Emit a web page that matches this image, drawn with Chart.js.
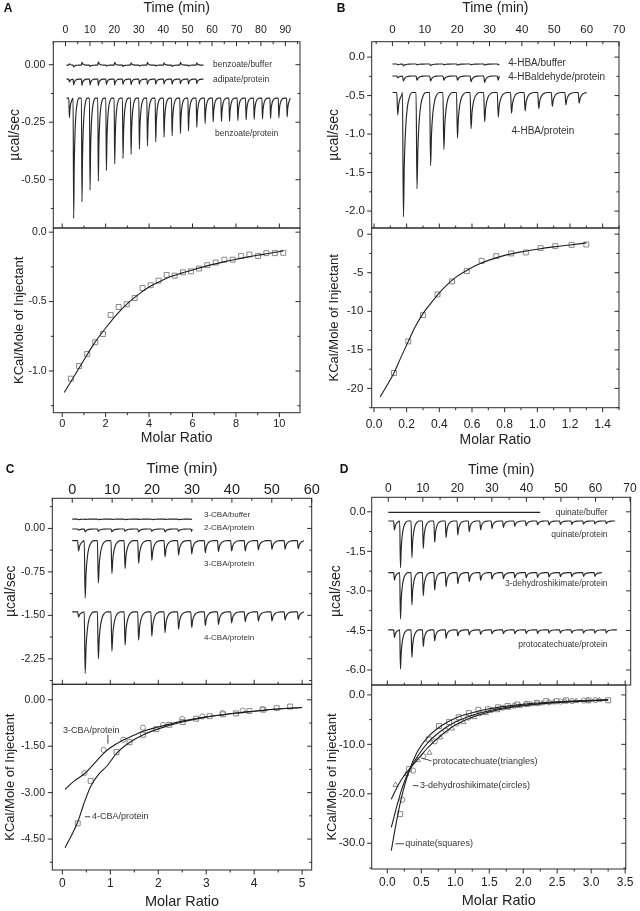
<!DOCTYPE html>
<html><head><meta charset="utf-8">
<script src="https://cdn.jsdelivr.net/npm/chart.js@4/dist/chart.umd.min.js"></script>
<style>
html,body{margin:0;padding:0;background:#fff;}
body{width:640px;height:911px;position:relative;overflow:hidden;}
canvas{position:absolute;left:0;top:0;}
</style></head><body>
<canvas id="aTop" width="640" height="911"></canvas>
<canvas id="aBot" width="640" height="911"></canvas>
<canvas id="bTop" width="640" height="911"></canvas>
<canvas id="bBot" width="640" height="911"></canvas>
<canvas id="cTop" width="640" height="911"></canvas>
<canvas id="cBot" width="640" height="911"></canvas>
<canvas id="dTop" width="640" height="911"></canvas>
<canvas id="dBot" width="640" height="911"></canvas>
<script>
// ---------------- DATA ----------------
// Panel A – raw ITC (time in min, µcal/sec); first entry = small pre-injection
const A_TIMES = [1.35,3.1,6.5,9.8,13.2,16.5,19.9,23.3,26.6,30.0,33.3,36.7,40.1,43.4,46.8,50.1,53.5,56.9,60.2,63.6,66.9,70.3,73.7,77.0,80.4,83.7,87.1,90.5];
const A_BENZ_PROT = [-0.23,-0.668,-0.596,-0.545,-0.506,-0.460,-0.431,-0.408,-0.390,-0.367,-0.353,-0.335,-0.315,-0.309,-0.299,-0.289,-0.272,-0.256,-0.249,-0.247,-0.246,-0.243,-0.240,-0.238,-0.236,-0.234,-0.231,-0.227];
const A_ADIP_PROT = [-0.075,-0.088,-0.090,-0.088,-0.090,-0.087,-0.088,-0.086,-0.087,-0.085,-0.086,-0.085,-0.084,-0.085,-0.083,-0.084,-0.082];
const A_BENZ_BUF = [0.004,-0.010,0.010,-0.008,0.012,-0.006,0.010,-0.008,0.008,-0.006,0.010,-0.006,0.008,-0.008,0.010,-0.006,0.008];
// Panel A – integrated heats (molar ratio, kcal/mol)
const A_RATIO = [0.40,0.78,1.15,1.52,1.88,2.23,2.60,2.97,3.34,3.70,4.07,4.44,4.81,5.18,5.56,5.93,6.30,6.68,7.07,7.47,7.85,8.24,8.62,9.02,9.40,9.79,10.18];
const A_HEAT = [-1.055,-0.964,-0.877,-0.793,-0.733,-0.596,-0.539,-0.519,-0.474,-0.402,-0.382,-0.349,-0.308,-0.313,-0.289,-0.282,-0.262,-0.238,-0.219,-0.198,-0.198,-0.171,-0.161,-0.171,-0.151,-0.151,-0.149];
const A_FIT_X = [0.09,0.5,1,1.5,2,2.5,3,3.5,4,4.5,5,5.5,6,6.5,7,7.5,8,8.5,9,9.5,10.18];
const A_FIT_Y = [-1.155,-1.05,-0.92,-0.795,-0.69,-0.595,-0.515,-0.45,-0.395,-0.355,-0.32,-0.295,-0.272,-0.25,-0.23,-0.212,-0.195,-0.18,-0.166,-0.154,-0.135];

// Panel B
const B_TIMES = [1.35,3.1,7.3,11.5,15.6,19.8,24.0,28.2,32.4,36.5,40.7,44.9,49.1,53.3,57.4];
const B_HBA_PROT = [-0.75,-2.075,-1.71,-1.41,-1.20,-1.05,-0.93,-0.84,-0.78,-0.73,-0.70,-0.67,-0.64,-0.62,-0.60];
const B_HBA_BUF = [-0.10,-0.115,-0.10,-0.11,-0.10,-0.105,-0.10,-0.105,-0.10];
const B_ALD_PROT = [-0.27,-0.31,-0.30,-0.31,-0.30,-0.30,-0.32,-0.33,-0.30];
const B_RATIO = [0.122,0.21,0.30,0.389,0.478,0.568,0.659,0.749,0.84,0.93,1.02,1.11,1.21,1.30];
const B_HEAT = [-18.0,-13.9,-10.5,-7.81,-6.13,-4.79,-3.45,-2.85,-2.50,-2.37,-1.81,-1.55,-1.38,-1.34];
const B_FIT_X = [0.038,0.08,0.122,0.16,0.21,0.25,0.30,0.35,0.40,0.45,0.50,0.56,0.62,0.70,0.80,0.90,1.00,1.10,1.20,1.30];
const B_FIT_Y = [-21.1,-19.6,-18.0,-16.2,-13.9,-12.1,-10.3,-8.9,-7.6,-6.5,-5.6,-4.8,-4.1,-3.4,-2.75,-2.3,-1.95,-1.65,-1.4,-1.13];

// Panel C
const C_TIMES = [1.35,3.0,6.3,9.7,13.0,16.4,19.7,23.0,26.4,29.7,33.1,36.4,39.7,43.1,46.4,49.8,53.1,56.4];
const C_3CBA_PROT = [-0.39,-1.20,-0.94,-0.78,-0.69,-0.60,-0.55,-0.49,-0.46,-0.44,-0.42,-0.40,-0.39,-0.39,-0.37,-0.36,-0.36,-0.35];
const C_4CBA_PROT = [-1.53,-2.50,-2.25,-2.12,-2.01,-1.93,-1.86,-1.80,-1.74,-1.71,-1.68,-1.66,-1.63,-1.61,-1.60,-1.60,-1.58,-1.57];
const C_3CBA_BUF = [0.15,0.155,0.15,0.155,0.15,0.155,0.15,0.155,0.15,0.155];
const C_2CBA_PROT = [-0.03,-0.06,-0.05,-0.06,-0.05,-0.06,-0.05,-0.06,-0.05,-0.05];
const C3_RATIO = [0.46,0.86,1.27,1.68,2.10,2.50,2.92,3.34,3.76,4.17];
const C3_HEAT = [-2.37,-1.62,-1.29,-0.90,-0.81,-0.62,-0.54,-0.43,-0.35,-0.30];
const C4_RATIO = [0.32,0.59,1.13,1.40,1.68,1.96,2.23,2.51,2.79,3.07,3.35,3.62,3.90,4.19,4.47,4.75];
const C4_HEAT = [-3.99,-2.62,-1.69,-1.37,-1.13,-0.95,-0.81,-0.72,-0.61,-0.53,-0.47,-0.44,-0.36,-0.32,-0.27,-0.22];
const C3_FIT_X = [0.056,0.25,0.46,0.7,0.86,1.0,1.27,1.5,1.68,2.0,2.5,3.0,3.5,4.0,4.5,5.0];
const C3_FIT_Y = [-2.89,-2.62,-2.39,-2.0,-1.73,-1.55,-1.3,-1.14,-1.02,-0.88,-0.69,-0.55,-0.45,-0.37,-0.30,-0.25];
const C4_FIT_X = [0.056,0.2,0.32,0.45,0.59,0.75,0.93,1.13,1.4,1.7,2.0,2.5,3.0,3.5,4.0,4.5,5.0];
const C4_FIT_Y = [-4.78,-4.35,-3.95,-3.35,-2.8,-2.42,-2.14,-1.73,-1.38,-1.12,-0.94,-0.72,-0.56,-0.45,-0.37,-0.30,-0.25];

// Panel D
const D_TIMES = [1.56,3.3,6.6,9.9,13.2,16.5,19.9,23.2,26.5,29.8,33.1,36.4,39.7,43.0,46.3,49.6,52.9,56.3,59.6,62.9];
const D_QUIN_PROT = [-0.69,-2.12,-1.74,-1.39,-1.16,-0.98,-0.88,-0.76,-0.69,-0.63,-0.59,-0.55,-0.53,-0.50,-0.50,-0.48,-0.48,-0.47,-0.46,-0.45];
const D_DHS_PROT = [-2.59,-4.06,-3.53,-3.18,-2.97,-2.84,-2.73,-2.65,-2.60,-2.56,-2.54,-2.51,-2.50,-2.49,-2.48,-2.46,-2.46,-2.45,-2.45];
const D_PCA_PROT = [-4.76,-5.96,-5.52,-5.11,-4.90,-4.80,-4.71,-4.67,-4.65,-4.63,-4.62,-4.62,-4.61,-4.61,-4.60,-4.60,-4.60,-4.60,-4.60,-4.60];
const D_QUIN_BUF = [];
const DQ_RATIO = [0.19,0.32,0.61,0.76,0.91,1.05,1.20,1.34,1.48,1.63,1.77,1.91,2.06,2.20,2.34,2.49,2.63,2.96,3.25];
const DQ_HEAT = [-24.1,-15.0,-9.0,-6.3,-5.5,-4.5,-3.7,-3.0,-2.9,-2.5,-2.25,-1.95,-1.8,-1.6,-1.27,-1.27,-1.1,-1.1,-1.1];
const DD_RATIO = [0.22,0.38,0.53,0.70,0.86,1.02,1.19,1.36,1.53,1.70,1.87,2.04,2.21,2.38,2.55,2.72,2.89,3.06];
const DD_HEAT = [-21.2,-15.3,-12.4,-9.4,-7.2,-5.8,-4.6,-3.7,-3.1,-2.6,-2.2,-1.9,-1.7,-1.5,-1.35,-1.25,-1.15,-1.05];
const DP_RATIO = [0.12,0.28,0.45,0.62,0.78,0.95,1.12,1.28,1.45,1.62,1.78,1.95,2.12,2.28,2.45,2.62,2.78,2.95,3.12];
const DP_HEAT = [-18.2,-16.0,-13.2,-11.7,-8.6,-6.8,-5.5,-4.5,-3.7,-3.1,-2.6,-2.2,-1.9,-1.7,-1.5,-1.35,-1.25,-1.15,-1.05];
const DQ_FIT_X = [0.058,0.1,0.15,0.2,0.25,0.3,0.35,0.45,0.6,0.8,1.0,1.25,1.5,1.75,2.0,2.5,3.0,3.25];
const DQ_FIT_Y = [-31.5,-28.2,-24.5,-21.3,-18.5,-16.2,-14.3,-11.3,-8.5,-6.2,-4.7,-3.6,-2.8,-2.3,-1.9,-1.4,-1.1,-1.0];
const DD_FIT_X = DQ_FIT_X;
const DD_FIT_Y = [-26.8,-24.6,-22.0,-19.6,-17.6,-16.0,-14.6,-12.3,-9.6,-7.2,-5.5,-4.1,-3.2,-2.55,-2.1,-1.5,-1.15,-1.02];
const DP_FIT_X = DQ_FIT_X;
const DP_FIT_Y = [-21.1,-19.9,-18.5,-17.3,-16.3,-15.4,-14.6,-13.0,-10.6,-8.1,-6.1,-4.5,-3.45,-2.7,-2.2,-1.55,-1.17,-1.03];

// Tick label values
const A_TIME_TICKS = [0,10,20,30,40,50,60,70,80,90];
const A_POWER_TICKS = [-0.5,-0.25,0];
const A_RATIO_TICKS = [0,2,4,6,8,10];
const A_HEAT_TICKS = [-1.0,-0.5,0];
const B_TIME_TICKS = [0,10,20,30,40,50,60,70];
const B_POWER_TICKS = [-2.0,-1.5,-1.0,-0.5,0];
const B_RATIO_TICKS = [0,0.2,0.4,0.6,0.8,1.0,1.2,1.4];
const B_HEAT_TICKS = [-20,-15,-10,-5,0];
const C_TIME_TICKS = [0,10,20,30,40,50,60];
const C_POWER_TICKS = [-2.25,-1.5,-0.75,0];
const C_RATIO_TICKS = [0,1,2,3,4,5];
const C_HEAT_TICKS = [-4.5,-3.0,-1.5,0];
const D_TIME_TICKS = [0,10,20,30,40,50,60,70];
const D_POWER_TICKS = [-6.0,-4.5,-3.0,-1.5,0];
const D_RATIO_TICKS = [0,0.5,1.0,1.5,2.0,2.5,3.0,3.5];
const D_HEAT_TICKS = [-30,-20,-10,0];

// ---------------- HELPERS ----------------
const FONT = '"Liberation Sans", Arial, Helvetica, sans-serif';
Chart.defaults.font.family = FONT;
Chart.defaults.color = '#222';

// peak profile template (fraction of injection interval, fraction of peak depth)
const SHAPE_T = [0, 0.07, 0.14, 0.24, 0.36, 0.52, 0.72];
const SHAPE_F = [0, 1, 0.56, 0.28, 0.12, 0.035, 0];
function trace(base, times, depths, t0, t1, interval) {
  const pts = [{x: t0, y: base}];
  for (let i = 0; i < depths.length; i++) {
    const t = times[i];
    const next = i + 1 < depths.length ? times[i + 1] : t1;
    for (let k = 0; k < SHAPE_T.length; k++) {
      const tt = t + SHAPE_T[k] * interval;
      if (tt < next - 0.05 && tt < t1) pts.push({x: tt, y: base + SHAPE_F[k] * (depths[i] - base)});
    }
  }
  pts.push({x: t1, y: base});
  return pts;
}
const xy = (xs, ys) => xs.map((x, i) => ({x, y: ys[i]}));
const rawDS = (pts) => ({data: pts, borderColor: '#262626', borderWidth: 1.15, pointRadius: 0, cubicInterpolationMode: 'monotone', fill: false});
const fitDS = (pts) => ({data: pts, borderColor: '#1e1e1e', borderWidth: 1.1, pointRadius: 0, cubicInterpolationMode: 'monotone', fill: false});
const markDS = (pts, style, r) => ({data: pts, showLine: false, pointStyle: style, pointRadius: r, pointBorderColor: '#888', pointBackgroundColor: 'rgba(255,255,255,0)', pointBorderWidth: 1, borderColor: '#888'});

function minorTicks(arr, min, max) {
  const step = arr[1] - arr[0], out = [];
  for (let i = -1; i < arr.length; i++) {
    const v = arr[0] + (i + 0.5) * step;
    if (v >= min - 1e-9 && v <= max + 1e-9) out.push(v);
  }
  return out;
}

const framePlugin = {
  id: 'frame',
  afterDatasetsDraw(chart, args, o) {
    const ctx = chart.ctx, a = chart.chartArea, sx = chart.scales.x, sy = chart.scales.y;
    ctx.save();
    ctx.strokeStyle = '#2a2a2a'; ctx.lineWidth = 1;
    ctx.strokeRect(a.left, a.top, a.right - a.left, a.bottom - a.top);
    const seg = (x1, y1, x2, y2) => { ctx.beginPath(); ctx.moveTo(x1, y1); ctx.lineTo(x2, y2); ctx.stroke(); };
    const E = o.edges;
    const xm = minorTicks(o.xTicks, sx.min, sx.max), ym = minorTicks(o.yTicks, sy.min, sy.max);
    [[o.xTicks, 4.5], [xm, 2.5]].forEach(([arr, len]) => arr.forEach(v => {
      const p = sx.getPixelForValue(v);
      if (E.top) seg(p, a.top, p, a.top + (E.top === 'in' ? len : -len));
      if (E.bottom) seg(p, a.bottom, p, a.bottom + (E.bottom === 'in' ? -len : len));
    }));
    [[o.yTicks, 4.5], [ym, 2.5]].forEach(([arr, len]) => arr.forEach(v => {
      const p = sy.getPixelForValue(v);
      if (E.left) seg(a.left, p, a.left + (E.left === 'in' ? len : -len), p);
      if (E.right) seg(a.right, p, a.right + (E.right === 'in' ? -len : len), p);
    }));
    ctx.fillStyle = '#333';
    (o.labels || []).forEach(l => {
      ctx.font = l.size + 'px ' + FONT;
      ctx.textAlign = l.align || 'left'; ctx.textBaseline = 'middle';
      ctx.fillText(l.text, sx.getPixelForValue(l.x), sy.getPixelForValue(l.y));
    });
    ctx.strokeStyle = '#444';
    (o.leaders || []).forEach(s => seg(sx.getPixelForValue(s[0]), sy.getPixelForValue(s[1]), sx.getPixelForValue(s[2]), sy.getPixelForValue(s[3])));
    if (o.letter) {
      ctx.font = 'bold 12px ' + FONT; ctx.fillStyle = '#111';
      ctx.textAlign = 'center'; ctx.textBaseline = 'middle';
      ctx.fillText(o.letter.text, o.letter.x, o.letter.y);
    }
    ctx.restore();
  }
};

function build(id, c) {
  const top = c.kind === 'top';
  const pad = top
    ? {left: c.box.l - c.yW, right: 640 - c.box.r, top: c.box.t - c.xH, bottom: 911 - c.box.b}
    : {left: c.box.l - c.yW, right: 640 - c.box.r, top: c.box.t, bottom: 911 - c.box.b - c.xH};
  new Chart(document.getElementById(id), {
    type: 'line',
    data: {datasets: c.datasets},
    options: {
      responsive: false, animation: false, devicePixelRatio: 1, events: [],
      layout: {padding: pad},
      plugins: {
        legend: {display: false}, tooltip: {enabled: false},
        frame: {xTicks: c.xTicks, yTicks: c.yTicks, edges: top ? {top: 'in', left: 'out', right: 'in'} : {top: 'out', bottom: 'out', left: 'out', right: 'in'},
                labels: c.labels, leaders: c.leaders, letter: c.letter}
      },
      scales: {
        x: {
          type: 'linear', position: top ? 'top' : 'bottom', min: c.xr[0], max: c.xr[1], bounds: 'data',
          grid: {display: false, drawTicks: false}, border: {display: false},
          ticks: {autoSkip: false, maxRotation: 0, padding: c.xPad, color: '#222', font: {size: c.xFont}, callback: v => Number(v).toFixed(c.xDec)},
          afterBuildTicks: s => { s.ticks = c.xTicks.map(v => ({value: v})); },
          afterFit: s => { s.height = c.xH; },
          title: {display: true, text: c.xTitle, color: '#222', font: {size: c.xTitleSize}, padding: 0}
        },
        y: {
          type: 'linear', position: 'left', min: c.yr[0], max: c.yr[1], bounds: 'data',
          grid: {display: false, drawTicks: false}, border: {display: false},
          ticks: {autoSkip: false, padding: c.yPad, color: '#222', font: {size: c.yFont}, callback: v => Number(v).toFixed(c.yDec)},
          afterBuildTicks: s => { s.ticks = c.yTicks.map(v => ({value: v})); },
          afterFit: s => { s.width = c.yW; },
          title: {display: true, text: c.yTitle, color: '#222', font: {size: c.yTitleSize}, padding: 0}
        }
      }
    },
    plugins: [framePlugin]
  });
}

// ---------------- PANEL A ----------------
build('aTop', {
  kind: 'top', box: {l: 53.3, r: 300, t: 41.7, b: 228}, xH: 41.7, yW: 46.4,
  xr: [-5, 96], yr: [-0.71, 0.1], xTicks: A_TIME_TICKS, yTicks: A_POWER_TICKS,
  xDec: 0, yDec: 2, xFont: 10.5, yFont: 10.5, xPad: 5, yPad: 8,
  xTitle: 'Time (min)', yTitle: 'µcal/sec', xTitleSize: 14, yTitleSize: 14,
  datasets: [
    rawDS(trace(-0.002, A_TIMES, A_BENZ_BUF, 0.4, 56.5, 3.36)),
    rawDS(trace(-0.063, A_TIMES, A_ADIP_PROT, 0.4, 56.5, 3.36)),
    rawDS(trace(-0.145, A_TIMES, A_BENZ_PROT, 0.4, 92, 3.36))
  ],
  labels: [
    {text: 'benzoate/buffer', x: 60.4, y: 0.0, size: 8.5},
    {text: 'adipate/protein', x: 60.4, y: -0.066, size: 8.5},
    {text: 'benzoate/protein', x: 61.2, y: -0.298, size: 8.5}
  ],
  letter: {text: 'A', x: 8, y: 9}
});
build('aBot', {
  kind: 'bottom', box: {l: 53.3, r: 300, t: 228, b: 412.7}, xH: 33.7, yW: 41.9,
  xr: [-0.41, 10.95], yr: [-1.3, 0.03], xTicks: A_RATIO_TICKS, yTicks: A_HEAT_TICKS,
  xDec: 0, yDec: 1, xFont: 11, yFont: 10.5, xPad: 4.5, yPad: 6.6,
  xTitle: 'Molar Ratio', yTitle: 'KCal/Mole of Injectant', xTitleSize: 14, yTitleSize: 13,
  datasets: [fitDS(xy(A_FIT_X, A_FIT_Y)), markDS(xy(A_RATIO, A_HEAT), 'rect', 3.5)]
});

// ---------------- PANEL B ----------------
build('bTop', {
  kind: 'top', box: {l: 371.7, r: 619, t: 41.7, b: 228}, xH: 41.7, yW: 45.9,
  xr: [-6.4, 70], yr: [-2.22, 0.2], xTicks: B_TIME_TICKS, yTicks: B_POWER_TICKS,
  xDec: 0, yDec: 1, xFont: 11.5, yFont: 11.5, xPad: 5, yPad: 6.7,
  xTitle: 'Time (min)', yTitle: 'µcal/sec', xTitleSize: 14, yTitleSize: 14,
  datasets: [
    rawDS(trace(-0.09, B_TIMES, B_HBA_BUF, 0, 33, 4.18)),
    rawDS(trace(-0.245, B_TIMES, B_ALD_PROT, 0, 33, 4.18)),
    rawDS(trace(-0.46, B_TIMES, B_HBA_PROT, 0, 60, 4.18))
  ],
  labels: [
    {text: '4-HBA/buffer', x: 35.8, y: -0.08, size: 10},
    {text: '4-HBaldehyde/protein', x: 35.8, y: -0.26, size: 10},
    {text: '4-HBA/protein', x: 36.8, y: -0.96, size: 10}
  ],
  letter: {text: 'B', x: 341, y: 9}
});
build('bBot', {
  kind: 'bottom', box: {l: 371.7, r: 619, t: 228, b: 407.7}, xH: 40.7, yW: 45,
  xr: [-0.014, 1.5], yr: [-22.5, 0.8], xTicks: B_RATIO_TICKS, yTicks: B_HEAT_TICKS,
  xDec: 1, yDec: 0, xFont: 12, yFont: 11.5, xPad: 10, yPad: 8.4,
  xTitle: 'Molar Ratio', yTitle: 'KCal/Mole of Injectant', xTitleSize: 14, yTitleSize: 13,
  datasets: [fitDS(xy(B_FIT_X, B_FIT_Y)), markDS(xy(B_RATIO, B_HEAT), 'rect', 3.5)]
});

// ---------------- PANEL C ----------------
build('cTop', {
  kind: 'top', box: {l: 52.3, r: 311.7, t: 498.3, b: 684.3}, xH: 38.3, yW: 49.4,
  xr: [-5, 60], yr: [-2.69, 0.52], xTicks: C_TIME_TICKS, yTicks: C_POWER_TICKS,
  xDec: 0, yDec: 2, xFont: 14.5, yFont: 10.5, xPad: 0, yPad: 7.3,
  xTitle: 'Time (min)', yTitle: 'µcal/sec', xTitleSize: 15, yTitleSize: 14,
  datasets: [
    rawDS(trace(0.16, C_TIMES, C_3CBA_BUF, 0, 30, 3.34)),
    rawDS(trace(-0.01, C_TIMES, C_2CBA_PROT, 0, 30, 3.34)),
    rawDS(trace(-0.21, C_TIMES, C_3CBA_PROT, 0, 58, 3.34)),
    rawDS(trace(-1.44, C_TIMES, C_4CBA_PROT, 0, 58, 3.34))
  ],
  labels: [
    {text: '3-CBA/buffer', x: 33, y: 0.23, size: 8},
    {text: '2-CBA/protein', x: 33, y: 0.01, size: 8},
    {text: '3-CBA/protein', x: 33, y: -0.61, size: 8},
    {text: '4-CBA/protein', x: 33, y: -1.88, size: 8}
  ],
  letter: {text: 'C', x: 10, y: 470}
});
build('cBot', {
  kind: 'bottom', box: {l: 52.3, r: 311.7, t: 684.3, b: 870}, xH: 41, yW: 49.6,
  xr: [-0.21, 5.2], yr: [-5.5, 0.5], xTicks: C_RATIO_TICKS, yTicks: C_HEAT_TICKS,
  xDec: 0, yDec: 2, xFont: 12, yFont: 10.5, xPad: 6, yPad: 7.3,
  xTitle: 'Molar Ratio', yTitle: 'KCal/Mole of Injectant', xTitleSize: 14.5, yTitleSize: 13,
  datasets: [
    fitDS(xy(C3_FIT_X, C3_FIT_Y)), fitDS(xy(C4_FIT_X, C4_FIT_Y)),
    markDS(xy(C3_RATIO, C3_HEAT), 'circle', 2.6), markDS(xy(C4_RATIO, C4_HEAT), 'rect', 3.5)
  ],
  labels: [
    {text: '3-CBA/protein', x: 0.013, y: -0.98, size: 9},
    {text: '4-CBA/protein', x: 0.62, y: -3.78, size: 9}
  ],
  leaders: [[0.95, -1.13, 0.95, -1.42], [0.47, -3.78, 0.58, -3.78]]
});

// ---------------- PANEL D ----------------
build('dTop', {
  kind: 'top', box: {l: 371.7, r: 630.7, t: 497.3, b: 685}, xH: 35.2, yW: 44.3,
  xr: [-4.8, 70.2], yr: [-6.57, 0.55], xTicks: D_TIME_TICKS, yTicks: D_POWER_TICKS,
  xDec: 0, yDec: 1, xFont: 12, yFont: 11.5, xPad: 1.8, yPad: 6,
  xTitle: 'Time (min)', yTitle: 'µcal/sec', xTitleSize: 14, yTitleSize: 14,
  datasets: [
    rawDS(trace(-0.02, D_TIMES, D_QUIN_BUF, 0, 44, 3.31)),
    rawDS(trace(-0.35, D_TIMES, D_QUIN_PROT, 0, 65.7, 3.31)),
    rawDS(trace(-2.31, D_TIMES, D_DHS_PROT, 0, 61.9, 3.31)),
    rawDS(trace(-4.48, D_TIMES, D_PCA_PROT, 0, 66.2, 3.31))
  ],
  labels: [
    {text: 'quinate/buffer', x: 63.5, y: -0.02, size: 8.5, align: 'right'},
    {text: 'quinate/protein', x: 63.5, y: -0.88, size: 8.5, align: 'right'},
    {text: '3-dehydroshikimate/protein', x: 63.5, y: -2.71, size: 8.5, align: 'right'},
    {text: 'protocatechuate/protein', x: 63.5, y: -5.03, size: 8.5, align: 'right'}
  ],
  letter: {text: 'D', x: 344, y: 470}
});
build('dBot', {
  kind: 'bottom', box: {l: 371.7, r: 630.7, t: 685, b: 869}, xH: 41.1, yW: 47,
  xr: [-0.23, 3.51], yr: [-35.2, 2], xTicks: D_RATIO_TICKS, yTicks: D_HEAT_TICKS,
  xDec: 1, yDec: 1, xFont: 12, yFont: 11.5, xPad: 6.5, yPad: 6.7,
  xTitle: 'Molar Ratio', yTitle: 'KCal/Mole of Injectant', xTitleSize: 14.5, yTitleSize: 13,
  datasets: [
    fitDS(xy(DQ_FIT_X, DQ_FIT_Y)), fitDS(xy(DD_FIT_X, DD_FIT_Y)), fitDS(xy(DP_FIT_X, DP_FIT_Y)),
    markDS(xy(DQ_RATIO, DQ_HEAT), 'rect', 3.5), markDS(xy(DD_RATIO, DD_HEAT), 'circle', 2.6), markDS(xy(DP_RATIO, DP_HEAT), 'triangle', 3)
  ],
  labels: [
    {text: 'protocatechuate(triangles)', x: 0.67, y: -13.5, size: 9},
    {text: '3-dehydroshikimate(circles)', x: 0.48, y: -18.4, size: 9},
    {text: 'quinate(squares)', x: 0.265, y: -30.1, size: 9}
  ],
  leaders: [[0.515, -12.8, 0.65, -13.35], [0.38, -18.3, 0.46, -18.4], [0.12, -30.1, 0.245, -30.1]]
});
</script>
</body></html>
